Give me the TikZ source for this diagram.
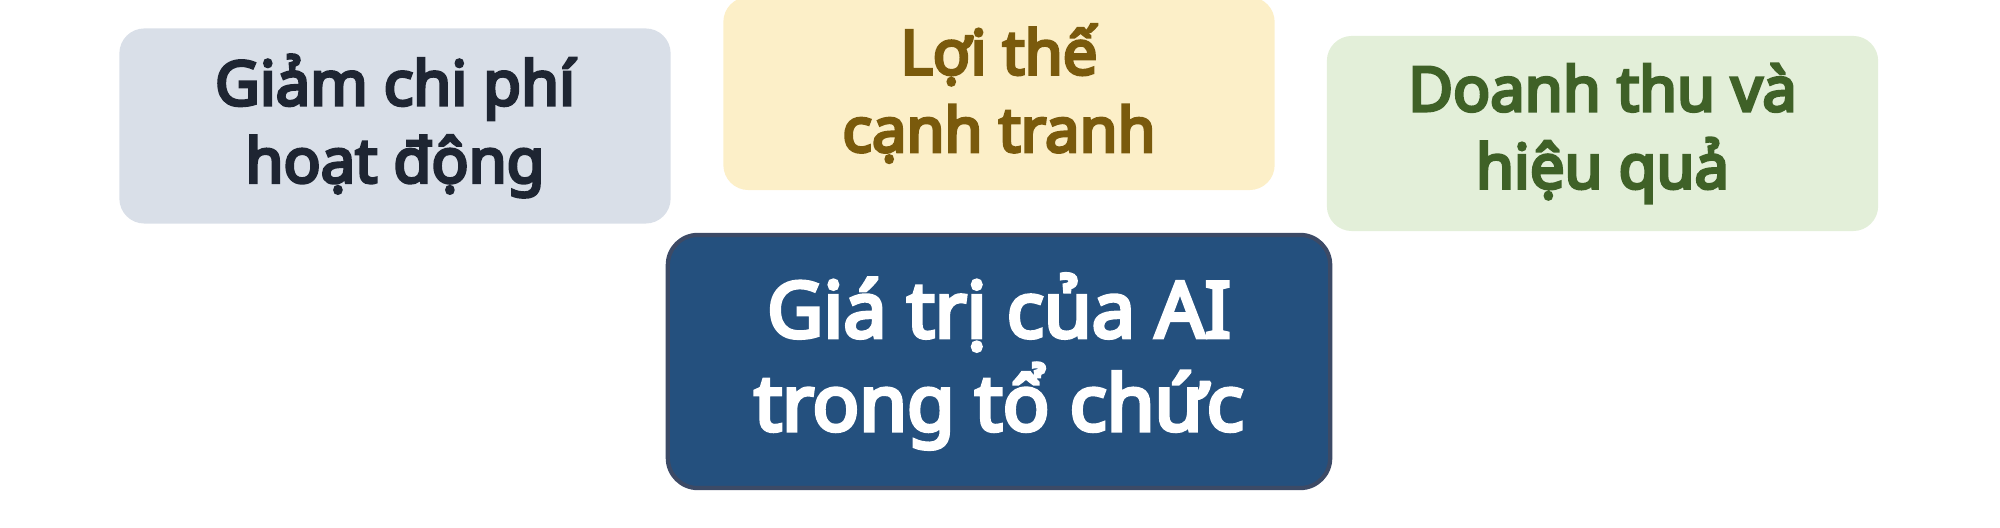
\documentclass[tikz,border=0pt]{standalone}
\usepackage{fontspec}
\setmainfont{Noto Sans}[AutoFakeBold=5]
\usetikzlibrary{shapes}

\definecolor{costfill}{HTML}{D9DFE8}
\definecolor{costtext}{HTML}{1E2532}
\definecolor{edgefill}{HTML}{FCEFC8}
\definecolor{edgetext}{HTML}{7A5A0C}
\definecolor{revfill}{HTML}{E3EFD9}
\definecolor{revtext}{HTML}{3F6127}
\definecolor{corefill}{HTML}{24507E}
\definecolor{coreline}{HTML}{3C4A66}

\begin{document}
\begin{tikzpicture}[x=0.01cm,y=-0.01cm]
			\tikzstyle{card}=[rectangle,rounded corners=0.25cm,inner sep=0pt,align=center,font=\bfseries\fontsize{17.5}{22}\selectfont]
			\tikzstyle{cardwide}=[card,minimum width=5.51cm,minimum height=1.95cm]
			\tikzstyle{core}=[rectangle,rounded corners=0.3cm,inner sep=0pt,align=center,minimum width=6.62cm,minimum height=2.53cm,fill=corefill,draw=coreline,line width=1.2pt,text=white,font=\bfseries\fontsize{22}{26.5}\selectfont]
			
			\useasboundingbox (0,0) rectangle (2000,528);
			
			\node[cardwide,fill=costfill,text=costtext] (cost) at (395,126) {Giảm chi phí\\hoạt động};
			\node[cardwide,fill=edgefill,text=edgetext,minimum height=1.93cm] (edge) at (999,93.5) {Lợi thế\\cạnh tranh};
			\node[cardwide,fill=revfill,text=revtext] (revenue) at (1602.5,133.5) {Doanh thu và\\hiệu quả};
			\node[core] (value) at (999,361.5) {Giá trị của AI\\trong tổ chức};
			
			\end{tikzpicture}
\end{document}
